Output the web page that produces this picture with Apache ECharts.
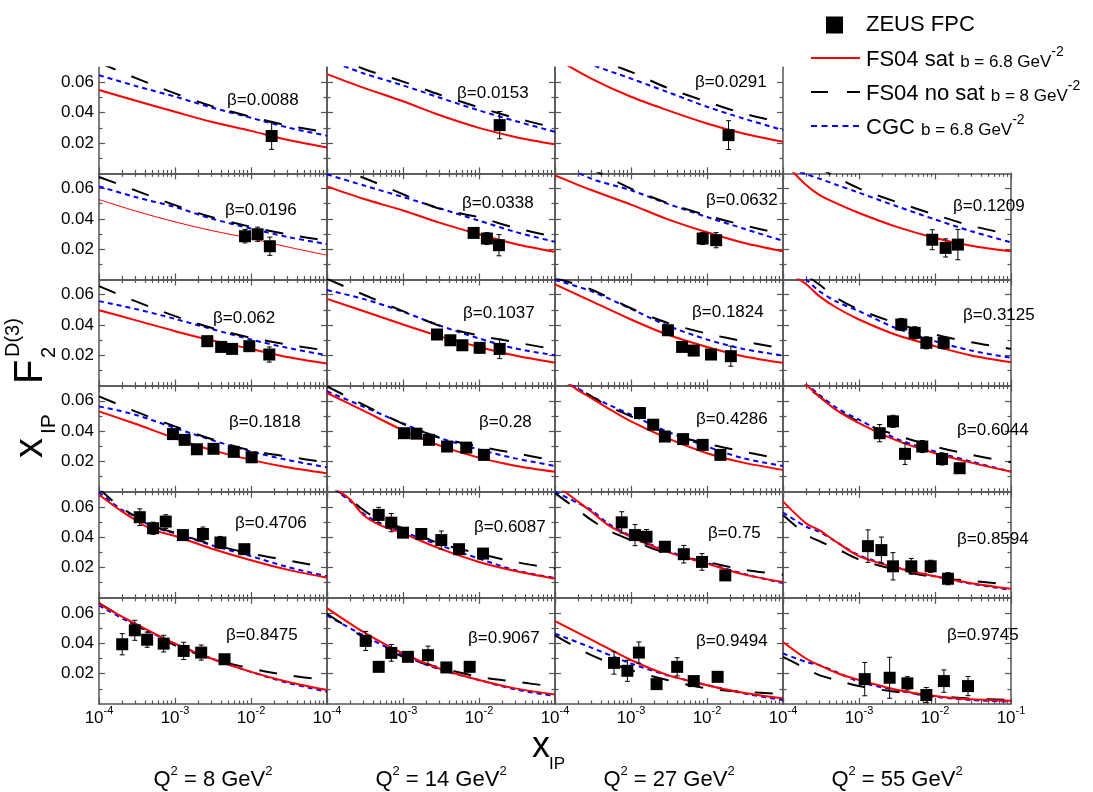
<!DOCTYPE html>
<html><head><meta charset="utf-8">
<script src="https://cdn.jsdelivr.net/npm/echarts@6.0.0/dist/echarts.min.js"></script>
<style>html,body{margin:0;padding:0;background:#fff}#c{width:1093px;height:792px}</style>
</head><body><div id="c"></div>
<script>
// ---------------- DATA ----------------
const q2Labels = ['8', '14', '27', '55'];
const betaLabels = [
  ['0.0088', '0.0153', '0.0291', null],
  ['0.0196', '0.0338', '0.0632', '0.1209'],
  ['0.062', '0.1037', '0.1824', '0.3125'],
  ['0.1818', '0.28', '0.4286', '0.6044'],
  ['0.4706', '0.6087', '0.75', '0.8594'],
  ['0.8475', '0.9067', '0.9494', '0.9745']
];
const xTicks = [1e-4, 1e-3, 1e-2, 1e-1];
const xMinorTicks = [2e-4, 3e-4, 4e-4, 5e-4, 6e-4, 7e-4, 8e-4, 9e-4,
  2e-3, 3e-3, 4e-3, 5e-3, 6e-3, 7e-3, 8e-3, 9e-3,
  2e-2, 3e-2, 4e-2, 5e-2, 6e-2, 7e-2, 8e-2, 9e-2];
const yTicks = [0.02, 0.04, 0.06];
const yMinorTicks = [0.01, 0.03, 0.05];

const X7 = [1e-4, 3e-4, 1e-3, 3e-3, 1e-2, 3e-2, 1e-1];
const X9 = [1e-4, 2e-4, 3e-4, 5e-4, 1e-3, 3e-3, 1e-2, 3e-2, 1e-1];
const curveX = [
  [X7, X7, X7, null],
  [X7, X7, X7, X9],
  [X7, X7, X7, X9],
  [X7, X7, X9, X9],
  [X9, X9, X9, X9],
  [X7, X7, X7, X9]
];

// FS04 sat, b = 6.8 GeV^-2 (red solid)
const fs04Sat = [
  [[0.055, 0.048, 0.0406, 0.034, 0.028, 0.0222, 0.0171],
   [0.0654, 0.0565, 0.0475, 0.0385, 0.0300, 0.0240, 0.0191],
   [0.076, 0.0625, 0.0505, 0.0417, 0.0329, 0.0263, 0.0208], null],
  [[0.0527, 0.0452, 0.038, 0.0323, 0.027, 0.0215, 0.016],
   [0.0614, 0.0532, 0.0455, 0.0375, 0.0298, 0.0234, 0.0182],
   [0.0687, 0.0590, 0.0494, 0.0398, 0.0311, 0.0242, 0.0186],
   [0.078, 0.0624, 0.0558, 0.0503, 0.0438, 0.035, 0.0274, 0.0223, 0.0186]],
  [[0.0497, 0.0432, 0.0359, 0.0299, 0.0242, 0.0189, 0.0145],
   [0.0572, 0.0492, 0.0403, 0.0326, 0.0255, 0.0198, 0.015],
   [0.0667, 0.0557, 0.0436, 0.0337, 0.0255, 0.0194, 0.015],
   [0.077, 0.067, 0.059, 0.0515, 0.0436, 0.0337, 0.026, 0.0198, 0.0154]],
  [[0.053, 0.0448, 0.0353, 0.0276, 0.021, 0.0161, 0.0121],
   [0.0651, 0.0535, 0.0405, 0.0306, 0.0225, 0.0172, 0.0132],
   [0.078, 0.067, 0.0618, 0.055, 0.0464, 0.0353, 0.0254, 0.0192, 0.0144],
   [0.083, 0.0705, 0.0629, 0.054, 0.0453, 0.0342, 0.0254, 0.0192, 0.0132]],
  [[0.068, 0.057, 0.0514, 0.045, 0.0408, 0.0326, 0.0248, 0.0186, 0.0133],
   [0.076, 0.065, 0.0547, 0.048, 0.0425, 0.0326, 0.0237, 0.0177, 0.0126],
   [0.075, 0.0635, 0.0569, 0.048, 0.0403, 0.0303, 0.0226, 0.0155, 0.0104],
   [0.0636, 0.0492, 0.0447, 0.037, 0.0275, 0.02, 0.0142, 0.0097, 0.006]],
  [[0.0661, 0.053, 0.0398, 0.03, 0.0212, 0.0147, 0.0092],
   [0.0632, 0.0475, 0.0333, 0.0234, 0.0158, 0.0103, 0.0063],
   [0.0547, 0.0425, 0.029, 0.0192, 0.0124, 0.0074, 0.0037],
   [0.0409, 0.03, 0.0256, 0.0206, 0.0158, 0.0096, 0.0053, 0.0031, 0.0022]]
];

// FS04 no sat, b = 8 GeV^-2 (black long dash)
const fs04NoSat = [
  [[0.073, 0.063, 0.0527, 0.0445, 0.0373, 0.0316, 0.027],
   [0.08, 0.069, 0.0605, 0.052, 0.0435, 0.0365, 0.030],
   [0.09, 0.077, 0.0669, 0.0564, 0.0472, 0.0395, 0.0333], null],
  [[0.0676, 0.0588, 0.049, 0.0412, 0.0347, 0.0298, 0.0255],
   [0.075, 0.0671, 0.0562, 0.0467, 0.041, 0.034, 0.0281],
   [0.085, 0.073, 0.0599, 0.0505, 0.0423, 0.0358, 0.0298],
   [0.085, 0.078, 0.0735, 0.0675, 0.060, 0.0514, 0.0427, 0.0354, 0.0295]],
  [[0.0656, 0.0557, 0.0458, 0.0381, 0.0315, 0.0271, 0.0231],
   [0.0704, 0.0601, 0.0491, 0.0396, 0.033, 0.0286, 0.0238],
   [0.071, 0.0634, 0.051, 0.0414, 0.0343, 0.0293, 0.0244],
   [0.085, 0.073, 0.0667, 0.058, 0.0502, 0.0414, 0.0337, 0.0286, 0.0242]],
  [[0.0629, 0.053, 0.0431, 0.0348, 0.0272, 0.0232, 0.0192],
   [0.0695, 0.0574, 0.0448, 0.0358, 0.0298, 0.0254, 0.0205],
   [0.076, 0.068, 0.063, 0.0565, 0.0497, 0.0386, 0.0316, 0.0265, 0.0214],
   [0.078, 0.069, 0.0629, 0.054, 0.0464, 0.0375, 0.0298, 0.0243, 0.0194]],
  [[0.072, 0.059, 0.054, 0.0475, 0.043, 0.0354, 0.0292, 0.0248, 0.0199],
   [0.075, 0.065, 0.058, 0.051, 0.0459, 0.0359, 0.0292, 0.0237, 0.0193],
   [0.0691, 0.058, 0.0514, 0.0445, 0.0381, 0.0292, 0.0237, 0.0186, 0.0153],
   [0.0547, 0.042, 0.0374, 0.0326, 0.0253, 0.0186, 0.0137, 0.0111, 0.0089]],
  [[0.0665, 0.0525, 0.0387, 0.03, 0.0234, 0.019, 0.0158],
   [0.0595, 0.0442, 0.0311, 0.0241, 0.0179, 0.0147, 0.0114],
   [0.0453, 0.0322, 0.0223, 0.0158, 0.0103, 0.0081, 0.0066],
   [0.0311, 0.0234, 0.019, 0.0158, 0.0118, 0.0081, 0.0053, 0.0035, 0.0026]]
];

// CGC, b = 6.8 GeV^-2 (blue short dash)
const cgc = [
  [[0.0647, 0.0577, 0.0506, 0.0435, 0.0366, 0.0303, 0.0248],
   [0.075, 0.066, 0.058, 0.050, 0.0415, 0.0345, 0.0274],
   [0.085, 0.072, 0.0625, 0.0537, 0.0439, 0.0362, 0.0285], null],
  [[0.0614, 0.0544, 0.0478, 0.0402, 0.0336, 0.0281, 0.0233],
   [0.0693, 0.0621, 0.0544, 0.0470, 0.0388, 0.0314, 0.0248],
   [0.078, 0.0665, 0.0588, 0.05, 0.0412, 0.0336, 0.0255],
   [0.0745, 0.0695, 0.0665, 0.0625, 0.0572, 0.0486, 0.0396, 0.0318, 0.0245]],
  [[0.0557, 0.0506, 0.044, 0.0374, 0.0304, 0.0249, 0.02],
   [0.063, 0.0572, 0.0487, 0.0397, 0.0311, 0.0245, 0.02],
   [0.0696, 0.0623, 0.0506, 0.0396, 0.0304, 0.0242, 0.0198],
   [0.080, 0.070, 0.0623, 0.0555, 0.0491, 0.0381, 0.0293, 0.0231, 0.0183]],
  [[0.0563, 0.0508, 0.042, 0.0342, 0.0265, 0.021, 0.0161],
   [0.0662, 0.0562, 0.045, 0.0356, 0.0278, 0.022, 0.017],
   [0.076, 0.068, 0.0629, 0.0575, 0.0508, 0.0397, 0.0298, 0.0221, 0.017],
   [0.082, 0.071, 0.064, 0.0555, 0.0475, 0.0353, 0.0265, 0.0199, 0.0132]],
  [[0.0696, 0.058, 0.0536, 0.047, 0.0425, 0.0348, 0.0275, 0.0204, 0.0142],
   [0.075, 0.064, 0.0558, 0.049, 0.0436, 0.0348, 0.0259, 0.0182, 0.0131],
   [0.07, 0.0625, 0.058, 0.049, 0.0408, 0.031, 0.023, 0.0159, 0.0097],
   [0.0563, 0.047, 0.0436, 0.037, 0.0281, 0.0204, 0.0142, 0.0093, 0.0053]],
  [[0.065, 0.0519, 0.0398, 0.03, 0.0212, 0.014, 0.0081],
   [0.0584, 0.0453, 0.0322, 0.0228, 0.0158, 0.0096, 0.0053],
   [0.0464, 0.0372, 0.0267, 0.019, 0.0125, 0.007, 0.0026],
   [0.0333, 0.0278, 0.0256, 0.0212, 0.0147, 0.0092, 0.0048, 0.0026, 0.0015]]
];

// ZEUS FPC points: [x_IP, value, error]
const zeusFPC = [
  [[[0.0187, 0.0246, 0.0088]],
   [[0.0187, 0.0318, 0.009]],
   [[0.0192, 0.0252, 0.0095]], null],
  [[[0.00833, 0.0285, 0.0044], [0.0122, 0.0298, 0.0047], [0.0177, 0.0219, 0.006]],
   [[0.0085, 0.0307, 0.002], [0.0127, 0.027, 0.004], [0.0183, 0.0226, 0.007]],
   [[0.00877, 0.027, 0.004], [0.0132, 0.0259, 0.005]],
   [[0.0092, 0.0262, 0.0066], [0.0138, 0.0208, 0.006], [0.02, 0.023, 0.01]]],
  [[[0.00266, 0.0293, 0.002], [0.00405, 0.0255, 0.002], [0.00564, 0.0242, 0.002], [0.0095, 0.026, 0.002], [0.0174, 0.0205, 0.005]],
   [[0.0028, 0.0337, 0.002], [0.0042, 0.0299, 0.002], [0.00604, 0.0266, 0.002], [0.0102, 0.0249, 0.002], [0.0187, 0.0242, 0.0064]],
   [[0.00306, 0.0365, 0.002], [0.0047, 0.0255, 0.002], [0.00669, 0.0231, 0.002], [0.0113, 0.0205, 0.002], [0.0206, 0.0194, 0.0066]],
   [[0.0036, 0.0403, 0.004], [0.0054, 0.0348, 0.004], [0.0077, 0.0282, 0.004], [0.013, 0.0282, 0.004]]],
  [[[0.00094, 0.038, 0.002], [0.00134, 0.0342, 0.002], [0.00194, 0.028, 0.002], [0.00321, 0.0283, 0.002], [0.00593, 0.0263, 0.002], [0.0102, 0.0227, 0.002]],
   [[0.00103, 0.0386, 0.003], [0.0015, 0.0383, 0.002], [0.0022, 0.0342, 0.002], [0.0038, 0.0298, 0.002], [0.0068, 0.0291, 0.003], [0.0116, 0.0243, 0.002]],
   [[0.00131, 0.0519, 0.003], [0.00196, 0.0442, 0.002], [0.00279, 0.0364, 0.002], [0.00485, 0.0347, 0.003], [0.00877, 0.0309, 0.003], [0.015, 0.0243, 0.002]],
   [[0.00187, 0.0386, 0.0057], [0.0028, 0.0464, 0.004], [0.00403, 0.025, 0.007], [0.0068, 0.0298, 0.004], [0.01236, 0.0216, 0.004], [0.0211, 0.0155, 0.003]]],
  [[[0.000344, 0.0532, 0.0055], [0.000515, 0.0459, 0.004], [0.000755, 0.0503, 0.0045], [0.00127, 0.0414, 0.003], [0.00233, 0.0421, 0.0046], [0.00396, 0.0365, 0.004], [0.00818, 0.0321, 0.002]],
   [[0.000479, 0.0547, 0.005], [0.000702, 0.0496, 0.006], [0.001, 0.043, 0.003], [0.00174, 0.0421, 0.002], [0.00319, 0.0381, 0.006], [0.00546, 0.0321, 0.002], [0.0113, 0.0292, 0.001]],
   [[0.000755, 0.0498, 0.007], [0.00113, 0.0414, 0.007], [0.0016, 0.0403, 0.0048], [0.00279, 0.0337, 0.003], [0.00495, 0.0288, 0.0058], [0.00859, 0.0237, 0.0055], [0.0174, 0.0148, 0.002]],
   [[0.00131, 0.0341, 0.0107], [0.00197, 0.0315, 0.0086], [0.0028, 0.0208, 0.009], [0.00488, 0.0208, 0.0052], [0.00877, 0.0208, 0.004], [0.0148, 0.0126, 0.004]]],
  [[[0.000202, 0.0394, 0.007], [0.000296, 0.0486, 0.0066], [0.00043, 0.0424, 0.005], [0.00071, 0.0398, 0.0055], [0.0013, 0.035, 0.0057], [0.00221, 0.0339, 0.005], [0.00448, 0.0295, 0.002]],
   [[0.000323, 0.0416, 0.0063], [0.000479, 0.0245, 0.002], [0.000702, 0.0337, 0.0055], [0.00116, 0.0311, 0.003], [0.00213, 0.0322, 0.006], [0.00372, 0.0241, 0.002], [0.00754, 0.0245, 0.002]],
   [[0.000598, 0.0271, 0.0074], [0.000896, 0.0219, 0.007], [0.00127, 0.0339, 0.007], [0.00217, 0.0131, 0.002], [0.00405, 0.0245, 0.006], [0.00669, 0.0151, 0.002], [0.0138, 0.0179, 0.002]],
   [[0.00119, 0.0164, 0.011], [0.00253, 0.0173, 0.0135], [0.00433, 0.0136, 0.0044], [0.00769, 0.0059, 0.005], [0.0131, 0.0151, 0.0074], [0.0272, 0.0118, 0.0063]]]
];

// ---------------- LAYOUT / STYLE ----------------
const FONT = '"Liberation Sans", Arial, Helvetica, sans-serif';
const AX = '#555555';
const L0 = 99, CW = 228, T0 = 67.2, RH = 106.13;
const betaPos = [
  [[227, 100], [457, 93], [695, 82], null],
  [[225, 210], [462, 203], [706, 200], [953, 206]],
  [[213, 318], [463, 313], [692, 312], [963, 315]],
  [[229, 422], [479, 422], [696, 419], [957, 430]],
  [[235, 523], [474, 527], [708, 533], [957, 539]],
  [[226, 635], [468, 638], [696, 641], [947, 635]]
];

const grids = [], xAxes = [], yAxes = [], series = [], graphics = [];
const axisLineStyle = { color: AX, width: 1.5 };
const tickStyle = { color: AX, width: 1.2 };

function xAxisDef(g, pos, major, lineOn, tickOn, labelOn, labelVals) {
  return {
    gridIndex: g, type: 'log', logBase: 10, min: 1e-4, max: 0.1, position: pos,
    splitLine: { show: false },
    axisLine: { show: lineOn, onZero: false, lineStyle: axisLineStyle },
    axisTick: { show: tickOn, inside: true, length: major ? 6 : 3.5,
      customValues: major ? xTicks : xMinorTicks, lineStyle: tickStyle },
    axisLabel: labelOn ? {
      show: true, customValues: labelVals, margin: 1, showMinLabel: true, showMaxLabel: true,
      formatter: v => '{b|10}{s|' + Math.round(Math.log10(v)) + '}',
      rich: {
        b: { fontSize: 17, lineHeight: 22, verticalAlign: 'bottom', fontFamily: FONT, color: '#000' },
        s: { fontSize: 11, lineHeight: 12, verticalAlign: 'top', fontFamily: FONT, color: '#000' }
      }
    } : { show: false }
  };
}
function yAxisDef(g, pos, major, labelOn) {
  return {
    gridIndex: g, type: 'value', min: 0, max: 0.07, position: pos,
    splitLine: { show: false },
    axisLine: { show: major, onZero: false, lineStyle: axisLineStyle },
    axisTick: { show: true, inside: true, length: major ? 6 : 3.5,
      customValues: major ? yTicks : yMinorTicks, lineStyle: tickStyle },
    axisLabel: labelOn ? {
      show: true, customValues: yTicks, margin: 5, color: '#000', fontSize: 17, fontFamily: FONT,
      formatter: v => v.toFixed(2)
    } : { show: false }
  };
}

let g = 0;
for (let r = 0; r < 6; r++) {
  for (let c = 0; c < 4; c++) {
    const xs = curveX[r][c];
    if (!xs) continue;
    grids.push({ left: L0 + c * CW, top: T0 + r * RH, width: CW, height: RH, show: false });
    const xi = xAxes.length, yi = yAxes.length;
    const lbl = r === 5;
    xAxes.push(xAxisDef(g, 'bottom', true, true, true, lbl, c === 3 ? xTicks : xTicks.slice(0, 3)));
    xAxes.push(xAxisDef(g, 'bottom', false, false, true, false));
    xAxes.push(xAxisDef(g, 'top', true, r > 0, r > 0, false));
    xAxes.push(xAxisDef(g, 'top', false, false, r > 0, false));
    yAxes.push(yAxisDef(g, 'left', true, c === 0));
    yAxes.push(yAxisDef(g, 'left', false, false));
    yAxes.push(yAxisDef(g, 'right', true, false));
    yAxes.push(yAxisDef(g, 'right', false, false));

    const common = { xAxisIndex: xi, yAxisIndex: yi, silent: true, animation: false };
    const lineCommon = { type: 'line', showSymbol: false, symbol: 'none', smooth: 0.3 };
    series.push(Object.assign({}, lineCommon, {
      data: xs.map((x, i) => [x, cgc[r][c][i]]),
      lineStyle: { color: '#0000ff', width: 2, type: [5, 4] }, z: 2
    }, common));
    series.push(Object.assign({}, lineCommon, {
      data: xs.map((x, i) => [x, fs04NoSat[r][c][i]]),
      lineStyle: { color: '#000000', width: 2, type: [18, 17] }, z: 3
    }, common));
    series.push(Object.assign({}, lineCommon, {
      data: xs.map((x, i) => [x, fs04Sat[r][c][i]]),
      lineStyle: { color: '#ff0000', width: (r === 1 && c === 0) ? 1 : 2 }, z: 4
    }, common));
    const pts = zeusFPC[r][c];
    series.push(Object.assign({
      type: 'custom', data: pts, encode: { x: 0, y: 1 }, z: 5,
      renderItem: (p, api) => {
        const x = api.value(0), y = api.value(1), e = api.value(2);
        const a = api.coord([x, y + e]), b = api.coord([x, y - e]);
        const w = 2.5, st = { stroke: '#000', lineWidth: 1 };
        return { type: 'group', children: [
          { type: 'line', shape: { x1: a[0], y1: a[1], x2: b[0], y2: b[1] }, style: st },
          { type: 'line', shape: { x1: a[0] - w, y1: a[1], x2: a[0] + w, y2: a[1] }, style: st },
          { type: 'line', shape: { x1: b[0] - w, y1: b[1], x2: b[0] + w, y2: b[1] }, style: st }
        ] };
      }
    }, common));
    series.push(Object.assign({
      type: 'scatter', data: pts.map(p => [p[0], p[1]]), symbol: 'rect', symbolSize: 12,
      itemStyle: { color: '#000', opacity: 1 }, z: 6
    }, common));

    const bp = betaPos[r][c];
    graphics.push({ type: 'text', x: bp[0], y: bp[1], z: 10, silent: true,
      style: { text: '\u03b2=' + betaLabels[r][c], fontSize: 17, fontFamily: FONT, fill: '#000',
        align: 'left', verticalAlign: 'middle' } });
    g++;
  }
}

// column labels
for (let c = 0; c < 4; c++) {
  graphics.push({ type: 'text', x: L0 + c * CW + CW / 2, y: 778, silent: true,
    style: { text: '{a|Q}{s|2}{a| = ' + q2Labels[c] + ' GeV}{s|2}', fill: '#000',
      align: 'center', verticalAlign: 'middle',
      rich: { a: { fontSize: 22, fontFamily: FONT, lineHeight: 26, verticalAlign: 'bottom', fill: '#000' },
              s: { fontSize: 13, fontFamily: FONT, lineHeight: 14, verticalAlign: 'top', fill: '#000' } } } });
}

// x axis title
graphics.push({ type: 'text', x: 532, y: 747, silent: true,
  style: { text: 'x', fontSize: 36, fontFamily: FONT, fill: '#000', align: 'left', verticalAlign: 'middle' } });
graphics.push({ type: 'text', x: 549, y: 764, silent: true,
  style: { text: 'IP', fontSize: 17, fontFamily: FONT, fill: '#000', align: 'left', verticalAlign: 'middle' } });

// y axis title (rotated, reads bottom to top)
graphics.push({ type: 'group', x: 45, y: 458, rotation: Math.PI / 2, silent: true, children: [
  { type: 'text', x: 0, y: -14, style: { text: 'x', fontSize: 40, fontFamily: FONT, fill: '#000', align: 'left', verticalAlign: 'middle' } },
  { type: 'text', x: 24, y: 4, style: { text: 'IP', fontSize: 21, fontFamily: FONT, fill: '#000', align: 'left', verticalAlign: 'middle' } },
  { type: 'text', x: 74, y: -14, style: { text: 'F', fontSize: 40, fontFamily: FONT, fill: '#000', align: 'left', verticalAlign: 'middle' } },
  { type: 'text', x: 100, y: 4, style: { text: '2', fontSize: 20, fontFamily: FONT, fill: '#000', align: 'left', verticalAlign: 'middle' } },
  { type: 'text', x: 101, y: -32, style: { text: 'D(3)', fontSize: 20, fontFamily: FONT, fill: '#000', align: 'left', verticalAlign: 'middle' } }
] });

// legend
const legRich = { a: { fontSize: 22, fontFamily: FONT, lineHeight: 26, verticalAlign: 'bottom', fill: '#000' },
                  b: { fontSize: 17, fontFamily: FONT, lineHeight: 22, verticalAlign: 'bottom', fill: '#000' },
                  s: { fontSize: 14, fontFamily: FONT, lineHeight: 14, verticalAlign: 'top', fill: '#000' } };
graphics.push({ type: 'rect', shape: { x: 826, y: 16.5, width: 17, height: 17 }, style: { fill: '#000' }, silent: true });
graphics.push({ type: 'text', x: 866, y: 25, silent: true, style: { text: 'ZEUS FPC', fontSize: 22, fontFamily: FONT, fill: '#000', align: 'left', verticalAlign: 'middle' } });
graphics.push({ type: 'line', shape: { x1: 811, y1: 58, x2: 860, y2: 58 }, style: { stroke: '#ff0000', lineWidth: 2 }, silent: true });
graphics.push({ type: 'text', x: 866, y: 58, silent: true, style: { text: '{a|FS04 sat }{b|b = 6.8 GeV}{s|-2}', rich: legRich, align: 'left', verticalAlign: 'middle' } });
graphics.push({ type: 'line', shape: { x1: 811, y1: 92, x2: 860, y2: 92 }, style: { stroke: '#000', lineWidth: 2, lineDash: [17, 19] }, silent: true });
graphics.push({ type: 'text', x: 866, y: 92, silent: true, style: { text: '{a|FS04 no sat }{b|b = 8 GeV}{s|-2}', rich: legRich, align: 'left', verticalAlign: 'middle' } });
graphics.push({ type: 'line', shape: { x1: 811, y1: 126, x2: 860, y2: 126 }, style: { stroke: '#0000ff', lineWidth: 2, lineDash: [6, 4.5] }, silent: true });
graphics.push({ type: 'text', x: 866, y: 126, silent: true, style: { text: '{a|CGC }{b|b = 6.8 GeV}{s|-2}', rich: legRich, align: 'left', verticalAlign: 'middle' } });

const chart = echarts.init(document.getElementById('c'), null, { renderer: 'canvas' });
chart.setOption({
  backgroundColor: '#fff', animation: false, textStyle: { fontFamily: FONT },
  grid: grids, xAxis: xAxes, yAxis: yAxes, series: series, graphic: graphics
});
</script></body></html>
